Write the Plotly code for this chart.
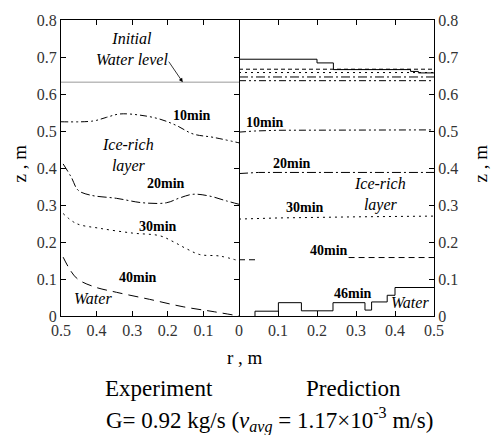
import plotly.graph_objects as go

# ---------------- data ----------------
# Experiment (left panel), r in m, z in m
exp10_r = [0.5, 0.41, 0.372, 0.335, 0.279, 0.222, 0.176, 0.129, 0.073, 0.0]
exp10_z = [0.525, 0.527, 0.537, 0.546, 0.543, 0.532, 0.515, 0.492, 0.483, 0.468]
exp20_r = [0.494, 0.471, 0.452, 0.419, 0.344, 0.27, 0.204, 0.167, 0.129, 0.082, 0.035, 0.0]
exp20_z = [0.411, 0.375, 0.340, 0.327, 0.318, 0.306, 0.306, 0.319, 0.329, 0.324, 0.311, 0.302]
exp30_r = [0.494, 0.457, 0.391, 0.298, 0.223, 0.185, 0.148, 0.110, 0.054, 0.0]
exp30_z = [0.277, 0.250, 0.237, 0.224, 0.217, 0.201, 0.182, 0.166, 0.162, 0.149]
exp40_r = [0.494, 0.457, 0.41, 0.344, 0.251, 0.157, 0.073, 0.0]
exp40_z = [0.159, 0.103, 0.080, 0.064, 0.045, 0.025, 0.012, 0.0]
init_r = [0.5, 0.0]
init_z = [0.632, 0.632]

# Prediction (right panel)
pre10_r = [0.0, 0.04, 0.1, 0.5]
pre10_z = [0.497, 0.500, 0.502, 0.503]
pre20_r = [0.0, 0.05, 0.5]
pre20_z = [0.385, 0.388, 0.388]
pre30_r = [0.0, 0.1, 0.3, 0.5]
pre30_z = [0.262, 0.265, 0.268, 0.270]
pre40_r = [0.0, 0.043, None, 0.281, 0.5]
pre40_z = [0.152, 0.152, None, 0.158, 0.158]
pre46_r = [0.041, 0.041, 0.101, 0.160, 0.241, 0.323, 0.340, 0.380, 0.400, 0.5]
pre46_z = [0.0, 0.013, 0.036, 0.014, 0.036, 0.016, 0.038, 0.056, 0.077, 0.077]
# free-surface levels (prediction)
surf46_r = [0.0, 0.2, 0.242, 0.44, 0.46, 0.5]
surf46_z = [0.694, 0.684, 0.666, 0.661, 0.657, 0.657]
surf40_r = [0.0, 0.5]
surf40_z = [0.667, 0.667]
surf30_r = [0.0, 0.5]
surf30_z = [0.658, 0.658]
surf20_r = [0.0, 0.5]
surf20_z = [0.646, 0.646]
surf10_r = [0.0, 0.5]
surf10_z = [0.636, 0.636]

left_ticks = [0.5, 0.4, 0.3, 0.2, 0.1, 0.0]
left_ticktext = ["0.5", "0.4", "0.3", "0.2", "0.1", "0"]
right_ticks = [0.1, 0.2, 0.3, 0.4, 0.5]
right_ticktext = ["0.1", "0.2", "0.3", "0.4", "0.5"]
z_ticks = [0, 0.1, 0.2, 0.3, 0.4, 0.5, 0.6, 0.7, 0.8]
z_ticktext = ["0", "0.1", "0.2", "0.3", "0.4", "0.5", "0.6", "0.7", "0.8"]

# ---------------- styles ----------------
DDOT = "7px,3px,2px,3px,2px,3px"
DASHDOT = "9px,3px,2px,3px"
DOT = "2px,4px"
DASH = "10px,6px"

fig = go.Figure()

def add(xs, ys, dash, axis, color="black", width=1, shape="linear"):
    fig.add_trace(go.Scatter(
        x=xs, y=ys, mode="lines",
        line=dict(color=color, width=width, dash=dash, shape=shape),
        xaxis="x" if axis == 1 else "x2", yaxis="y" if axis == 1 else "y2",
        showlegend=False, hoverinfo="skip", connectgaps=False))

add(init_r, init_z, "solid", 1, color="#999999", width=1)
add(exp10_r, exp10_z, DDOT, 1, shape="spline")
add(exp20_r, exp20_z, DASHDOT, 1, shape="spline")
add(exp30_r, exp30_z, DOT, 1, shape="spline")
add(exp40_r, exp40_z, DASH, 1, shape="spline")

add(surf10_r, surf10_z, DDOT, 2)
add(surf20_r, surf20_z, DASHDOT, 2)
add(surf30_r, surf30_z, DOT, 2)
add(surf40_r, surf40_z, "4px,3px", 2)
add(surf46_r, surf46_z, "solid", 2, shape="hv")
add(pre10_r, pre10_z, DDOT, 2)
add(pre20_r, pre20_z, DASHDOT, 2)
add(pre30_r, pre30_z, DOT, 2)
add(pre40_r, pre40_z, "6px,4px", 2)
add(pre46_r, pre46_z, "solid", 2, shape="hv")

SERIF = "Liberation Serif"
tickfont = dict(family=SERIF, size=16, color="#333333")
axis_common = dict(showline=True, linecolor="black", linewidth=1,
                   ticks="inside", ticklen=5, tickcolor="black", showgrid=False,
                   zeroline=False, tickfont=tickfont)

split = 178 / 373
fig.update_layout(
    width=493, height=435,
    margin=dict(l=61, r=59, t=17, b=119),
    paper_bgcolor="white", plot_bgcolor="white",
    font=dict(family=SERIF),
    xaxis=dict(domain=[0, split], range=[0.5, 0.0], tickvals=left_ticks,
               ticktext=left_ticktext, anchor="y", mirror="ticks", **axis_common),
    yaxis=dict(domain=[0, 1], range=[0, 0.8], tickvals=z_ticks,
               ticktext=z_ticktext, anchor="x", mirror="ticks", **axis_common),
    xaxis2=dict(domain=[split, 1], range=[0.0, 0.5], tickvals=right_ticks,
                ticktext=right_ticktext, anchor="y2", mirror="ticks", **axis_common),
    yaxis2=dict(domain=[0, 1], range=[0, 0.8], tickvals=z_ticks,
                ticktext=z_ticktext, anchor="x2", side="right", mirror=False,
                **axis_common),
)

bold = dict(family=SERIF, size=14, color="black")
ital = dict(family=SERIF, size=16, color="black")

def ann(text, x, y, axis, font, **kw):
    fig.add_annotation(text=text, x=x, y=y, xref="x" if axis == 1 else "x2",
                       yref="y" if axis == 1 else "y2", showarrow=False,
                       xanchor="center", yanchor="middle", font=font, **kw)

# left labels
ann("<i>Initial</i><br><i>Water level</i>", 0.301, 0.722, 1, ital)
ann("<b>10min</b>", 0.133, 0.543, 1, bold)
ann("<i>Ice-rich</i><br><i>layer</i>", 0.312, 0.433, 1, ital)
ann("<b>20min</b>", 0.206, 0.359, 1, bold)
ann("<b>30min</b>", 0.228, 0.243, 1, bold)
ann("<b>40min</b>", 0.284, 0.104, 1, bold)
ann("<i>Water</i>", 0.411, 0.048, 1, ital)
# arrow
fig.add_annotation(x=0.158, y=0.632, xref="x", yref="y", ax=-15, ay=-22,
                   axref="pixel", ayref="pixel", text="", showarrow=True,
                   arrowhead=2, arrowsize=1, arrowwidth=0.8, arrowcolor="black")
# right labels
ann("<b>10min</b>", 0.066, 0.524, 2, bold)
ann("<b>20min</b>", 0.135, 0.412, 2, bold)
ann("<b>30min</b>", 0.168, 0.292, 2, bold)
ann("<b>40min</b>", 0.230, 0.177, 2, bold)
ann("<b>46min</b>", 0.293, 0.062, 2, bold)
ann("<i>Water</i>", 0.438, 0.037, 2, ital)
ann("<i>Ice-rich</i><br><i>layer</i>", 0.361, 0.329, 2, ital)

def pann(text, px, py, size, angle=0):
    fig.add_annotation(text=text, x=(px - 61) / 373, y=(316 - py) / 299,
                       xref="paper", yref="paper", showarrow=False,
                       xanchor="center", yanchor="middle",
                       textangle=angle, font=dict(family=SERIF, size=size, color="black"))

pann("z , m", 20, 162, 19, -90)
pann("z , m", 481, 162, 19, -90)
pann("r , m", 245, 358, 19)
pann("Experiment", 159, 389, 23)
pann("Prediction", 353, 389, 23)
pann("G= 0.92 kg/s (<i>v</i><sub><i>avg</i></sub> = 1.17\u00d710<sup>-3</sup> m/s)", 269, 421, 23)

fig.write_html("out.html")
